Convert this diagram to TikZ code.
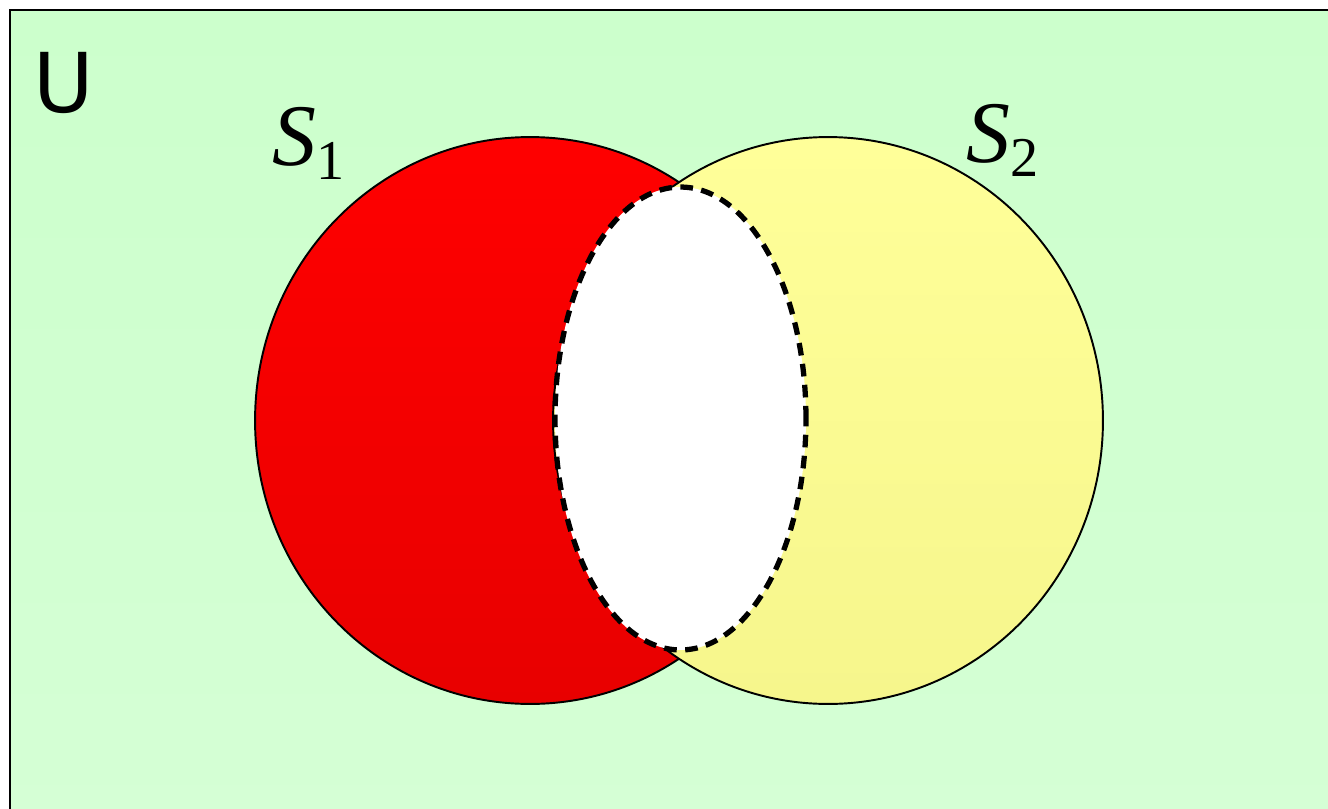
\documentclass[tikz,border=0pt]{standalone}
\usepackage{fontspec}
\setmainfont{Liberation Serif}
\newfontfamily\universefont{DejaVu Sans}
\usetikzlibrary{shapes.geometric}
\definecolor{univtop}{HTML}{CCFFCC}
\definecolor{univbot}{HTML}{D5FFD5}
\definecolor{redtop}{HTML}{FF0000}
\definecolor{redbot}{HTML}{E80000}
\definecolor{yeltop}{HTML}{FFFF99}
\definecolor{yelbot}{HTML}{F6F68C}
\tikzset{
  setshape/.style={ellipse, draw, line width=1.1pt, inner sep=0pt,
    minimum width=11cm, minimum height=11.34cm},
  setlabel/.style={anchor=base west, inner sep=0pt, font=\fontsize{50}{50}\selectfont}
}
\newcommand{\setname}[1]{\textit{S}\raisebox{-8.5pt}{\fontsize{32}{32}\selectfont #1}}
\begin{document}
\begin{tikzpicture}[x=0.02cm, y=-0.02cm]
\useasboundingbox (0,0) rectangle (1328,808);
\clip (0,0) rectangle (1328,808);
\draw[line width=1.7pt, top color=univtop, bottom color=univbot] (10,10) rectangle (1350,830);
\node[anchor=base west, inner sep=0pt, font=\universefont\fontsize{47}{47}\selectfont] (u) at (33,112) {U};
\node[setshape, top color=redtop, bottom color=redbot] (s1) at (530,420.5) {};
\node[setshape, top color=yeltop, bottom color=yelbot] (s2) at (828,420.5) {};
\node[ellipse, draw, fill=white, dash pattern=on 7.2pt off 4.8pt, line width=3pt, inner sep=0pt,
  minimum width=5.02cm, minimum height=9.26cm] (both) at (680.5,418.5) {};
\node[setlabel] (s1name) at (272,165) {\setname{1}};
\node[setlabel] (s2name) at (966,162) {\setname{2}};
\end{tikzpicture}
\end{document}
